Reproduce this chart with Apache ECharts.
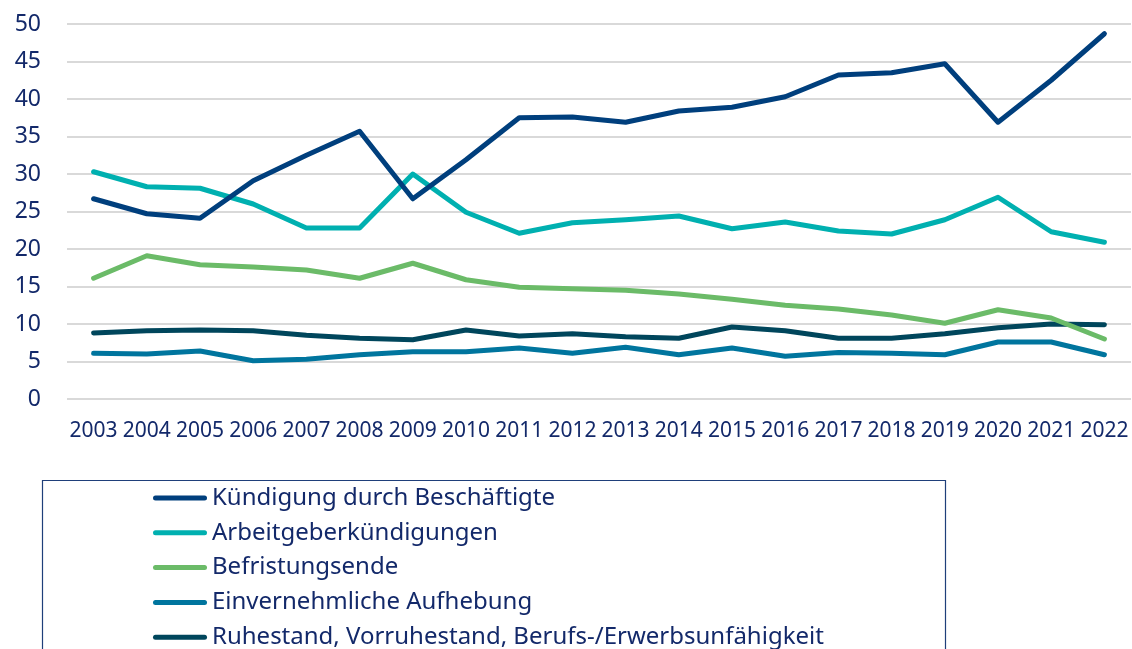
<!DOCTYPE html>
<html>
<head>
<meta charset="utf-8">
<script src="https://cdn.jsdelivr.net/npm/echarts@6/dist/echarts.min.js"></script>
<style>
  html, body { margin: 0; padding: 0; background: #fff; }
  #chart { width: 1132px; height: 649px; }
</style>
</head>
<body>
<div id="chart"></div>
<script>
const years = ['2003','2004','2005','2006','2007','2008','2009','2010','2011','2012','2013','2014','2015','2016','2017','2018','2019','2020','2021','2022']

const kuendigungBeschaeftigte = [26.7, 24.7, 24.1, 29.1, 32.5, 35.7, 26.7, 31.9, 37.5, 37.6, 36.9, 38.4, 38.9, 40.3, 43.2, 43.5, 44.7, 36.9, 42.5, 48.7]
const arbeitgeberKuendigungen = [30.3, 28.3, 28.1, 26.0, 22.8, 22.8, 30.0, 24.9, 22.1, 23.5, 23.9, 24.4, 22.7, 23.6, 22.4, 22.0, 23.9, 26.9, 22.3, 20.9]
const befristungsende = [16.1, 19.1, 17.9, 17.6, 17.2, 16.1, 18.1, 15.9, 14.9, 14.7, 14.5, 14.0, 13.3, 12.5, 12.0, 11.2, 10.1, 11.9, 10.8, 8.0]
const einvernehmlich = [6.1, 6.0, 6.4, 5.1, 5.3, 5.9, 6.3, 6.3, 6.8, 6.1, 6.9, 5.9, 6.8, 5.7, 6.2, 6.1, 5.9, 7.6, 7.6, 5.9]
const ruhestand = [8.8, 9.1, 9.2, 9.1, 8.5, 8.1, 7.9, 9.2, 8.4, 8.7, 8.3, 8.1, 9.6, 9.1, 8.1, 8.1, 8.7, 9.5, 10.0, 9.9]

const seriesNames = [
  'Kündigung durch Beschäftigte',
  'Arbeitgeberkündigungen',
  'Befristungsende',
  'Einvernehmliche Aufhebung',
  'Ruhestand, Vorruhestand, Berufs-/Erwerbsunfähigkeit'
]
const seriesData = [kuendigungBeschaeftigte, arbeitgeberKuendigungen, befristungsende, einvernehmlich, ruhestand]
const seriesColors = ['#003f7d', '#00b0b0', '#6bbb68', '#00759e', '#00465c']

const textColor = '#13296a'
const fontFamily = '"Noto Sans", sans-serif'

const myChart = echarts.init(document.getElementById('chart'))

let series = []
seriesNames.forEach((name, i) => {
  series.push({
    name: name,
    type: 'line',
    data: seriesData[i],
    symbol: 'none',
    z: 10 - i,
    itemStyle: { color: seriesColors[i] },
    lineStyle: { color: seriesColors[i], width: 5, cap: 'round', join: 'round' }
  })
})

const option = {
  animation: false,
  backgroundColor: '#fff',
  textStyle: { fontFamily: fontFamily },
  grid: {
    left: 67,
    right: 1,
    top: 24,
    bottom: 250
  },
  xAxis: {
    type: 'category',
    data: years,
    boundaryGap: true,
    axisLine: { show: false },
    axisTick: { show: false },
    axisLabel: {
      color: textColor,
      fontSize: 21,
      fontFamily: fontFamily,
      margin: 22,
      interval: 0
    }
  },
  yAxis: {
    type: 'value',
    min: 0,
    max: 50,
    interval: 5,
    axisLine: { show: false },
    axisTick: { show: false },
    axisLabel: {
      color: textColor,
      fontSize: 23,
      fontFamily: fontFamily,
      margin: 26
    },
    splitLine: { lineStyle: { color: '#d9d9d9', width: 2 } }
  },
  legend: {
    orient: 'vertical',
    left: 153,
    top: 484,
    height: 300,
    padding: 0,
    itemWidth: 54,
    itemHeight: 5,
    itemGap: 6.8,
    icon: 'path://M2.5,0 L51.5,0 A2.5,2.5 0 0 1 51.5,5 L2.5,5 A2.5,2.5 0 0 1 2.5,0 Z',
    data: seriesNames,
    textStyle: {
      color: textColor,
      fontSize: 24,
      fontFamily: fontFamily,
      lineHeight: 28,
      padding: [0, 0, 0, 0]
    }
  },
  graphic: [
    {
      type: 'rect',
      left: 40,
      top: 478,
      shape: { width: 903, height: 200 },
      style: { fill: 'none', stroke: '#1f3f7a', lineWidth: 1.2 },
      silent: true
    }
  ],
  series
}

myChart.setOption(option)
</script>
</body>
</html>
